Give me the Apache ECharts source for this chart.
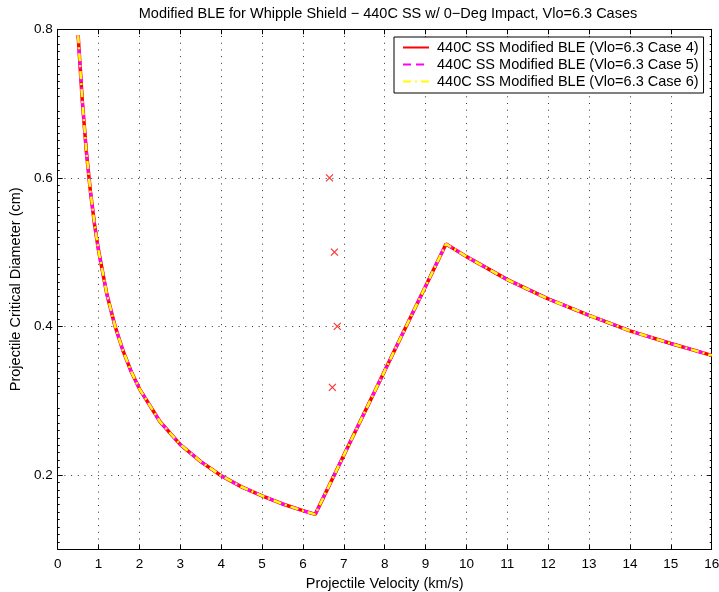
<!DOCTYPE html>
<html>
<head>
<meta charset="utf-8">
<script src="https://cdn.jsdelivr.net/npm/echarts@6/dist/echarts.min.js"></script>
<style>
  html, body { margin: 0; padding: 0; background: #fff; }
  #chart { width: 719px; height: 592px; }
</style>
</head>
<body>
<div id="chart"></div>
<script>
// curve: falls to 6.3 km/s, rises to 9.5 km/s, then falls again
var velocity = [0.5, 0.6, 0.7, 0.8, 0.9, 1.0, 1.2, 1.4, 1.6, 1.8, 2.0, 2.5, 3.0, 3.5, 4.0, 4.5, 5.0, 5.5, 6.0, 6.3,
                9.5, 10, 11, 12, 13, 14, 15, 16];
var diameter = [0.792, 0.705, 0.636, 0.582, 0.538, 0.502, 0.444, 0.401, 0.367, 0.339, 0.316, 0.272, 0.241, 0.218, 0.199, 0.184, 0.172, 0.161, 0.152, 0.147,
                0.511, 0.494, 0.463, 0.437, 0.415, 0.394, 0.377, 0.361];

// test points (red x)
var testVel = [6.65, 6.77, 6.84, 6.72];
var testDia = [0.600, 0.500, 0.400, 0.318];

var seriesNames = [
  '440C SS Modified BLE (Vlo=6.3 Case 4)',
  '440C SS Modified BLE (Vlo=6.3 Case 5)',
  '440C SS Modified BLE (Vlo=6.3 Case 6)'
];

var yTicks = [0.2, 0.4, 0.6, 0.8];

var chart = echarts.init(document.getElementById('chart'));

var curve = velocity.map(function (v, i) { return [v, diameter[i]]; });
var points = testVel.map(function (v, i) { return [v, testDia[i]]; });

var font = 'Liberation Sans, Arial, sans-serif';
var gridDots = { color: '#333', width: 1, type: [1, 5.7] };

var option = {
  animation: false,
  backgroundColor: '#fff',
  title: {
    text: 'Modified BLE for Whipple Shield \u2212 440C SS w/ 0\u2212Deg Impact, Vlo=6.3 Cases',
    left: 388, top: 6, padding: 0, textAlign: 'center',
    textStyle: { fontFamily: font, fontSize: 14.5, fontWeight: 'normal', color: '#000' }
  },
  legend: {
    orient: 'vertical',
    left: 394, top: 37,
    data: seriesNames,
    backgroundColor: '#fff',
    borderColor: '#000', borderWidth: 1,
    padding: [3, 5, 4, 8],
    itemWidth: 26, itemHeight: 14, itemGap: 2,
    itemStyle: { opacity: 0 },
    textStyle: { fontFamily: font, fontSize: 14.5, color: '#000', padding: [0, 0, 0, 3] }
  },
  grid: { left: 57.7, right: 7.3, top: 29.3, bottom: 42.7, outerBoundsMode: 'none' },
  xAxis: [{
    type: 'value', min: 0, max: 16, interval: 1,
    name: 'Projectile Velocity (km/s)', nameLocation: 'middle', nameGap: 22,
    nameTextStyle: { fontFamily: font, fontSize: 14.5, color: '#000' },
    axisLine: { onZero: false, lineStyle: { color: '#000', width: 1 } },
    axisTick: { inside: true, length: 5, lineStyle: { color: '#000' } },
    axisLabel: { fontFamily: font, fontSize: 13.5, color: '#000', margin: 8 },
    splitLine: { show: true, lineStyle: gridDots }
  }, {
    type: 'value', min: 0, max: 16, interval: 1, position: 'top',
    axisLine: { onZero: false, lineStyle: { color: '#000', width: 1 } },
    axisTick: { inside: true, length: 5, lineStyle: { color: '#000' } },
    axisLabel: { show: false }, splitLine: { show: false }
  }],
  yAxis: [{
    type: 'value', min: 0.1, max: 0.8, interval: 0.1,
    name: 'Projectile Critical Diameter (cm)', nameLocation: 'middle', nameGap: 29,
    nameTextStyle: { fontFamily: font, fontSize: 14.5, color: '#000' },
    axisLine: { onZero: false, lineStyle: { color: '#000', width: 1 } },
    axisTick: { inside: true, length: 5, customValues: yTicks, lineStyle: { color: '#000' } },
    minorTick: { show: true, splitNumber: 10, length: 2, lineStyle: { color: '#000' } },
    axisLabel: {
      fontFamily: font, fontSize: 13.5, color: '#000', margin: 5,
      customValues: yTicks,
      formatter: function (v) { return v.toFixed(1); }
    },
    splitLine: { show: false }
  }, {
    type: 'value', min: 0.1, max: 0.8, interval: 0.1, position: 'right',
    axisLine: { onZero: false, lineStyle: { color: '#000', width: 1 } },
    axisTick: { inside: true, length: 5, customValues: yTicks, lineStyle: { color: '#000' } },
    minorTick: { show: true, splitNumber: 10, length: 2, lineStyle: { color: '#000' } },
    axisLabel: { show: false }, splitLine: { show: false }
  }],
  series: [
    {
      name: seriesNames[0], type: 'line', data: curve, symbol: 'none', z: 3,
      lineStyle: { color: '#ff0000', width: 3.5 }, itemStyle: { color: '#ff0000' },
      markLine: {
        silent: true, symbol: 'none', label: { show: false },
        lineStyle: gridDots,
        data: yTicks.slice(0, 3).map(function (t) { return { yAxis: t }; })
      }
    },
    {
      name: seriesNames[1], type: 'line', data: curve, symbol: 'none', z: 4,
      lineStyle: { color: '#ff00ff', width: 3, type: [8, 5] }, itemStyle: { color: '#ff00ff' }
    },
    {
      name: seriesNames[2], type: 'line', data: curve, symbol: 'none', z: 5,
      lineStyle: { color: '#ffff00', width: 2.5, type: [8, 4, 2, 4] }, itemStyle: { color: '#ffff00' }
    },
    {
      name: 'tests', type: 'scatter', data: points, z: 6,
      symbol: 'path://M0,0L10,10M10,0L0,10', symbolSize: 7,
      itemStyle: { color: 'rgba(0,0,0,0)', borderColor: '#ff0000', borderWidth: 1.2 }
    }
  ]
};

chart.setOption(option);
</script>
</body>
</html>
